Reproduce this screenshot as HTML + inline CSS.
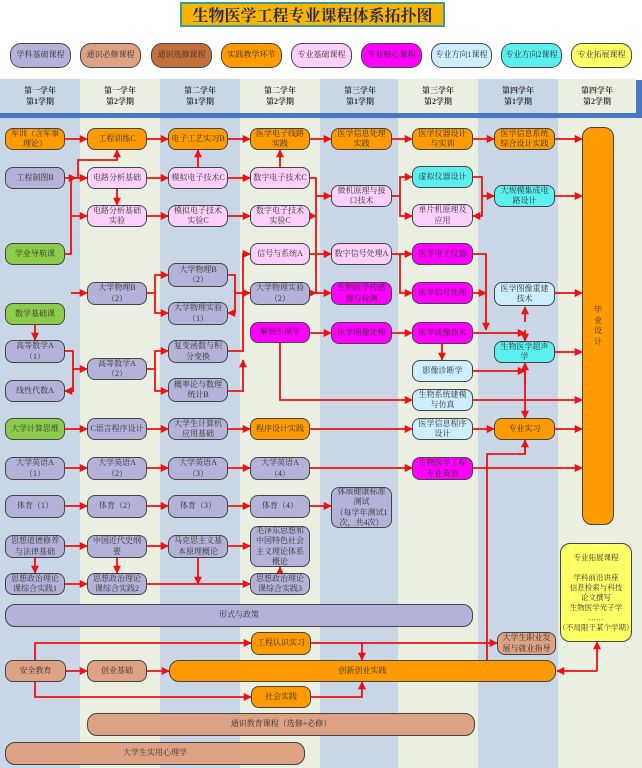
<!DOCTYPE html>
<html><head><meta charset="utf-8">
<style>
body{margin:0;width:642px;height:768px;position:relative;overflow:hidden;background:#fff;font-family:"Liberation Serif","Noto Serif CJK SC",serif;}
.col{position:absolute;top:118px;height:650px;width:80px;}
.hc{position:absolute;top:79px;height:34px;width:80px;font-size:8px;font-weight:bold;color:#333;text-align:center;line-height:11px;padding-top:6px;box-sizing:border-box;}
.b{position:absolute;box-sizing:border-box;border:1.5px solid #444;border-radius:8px;display:flex;align-items:center;justify-content:center;text-align:center;font-size:8px;line-height:10.5px;color:#333;white-space:nowrap;overflow:hidden;}
.P{background:#b3b3d9}.T{background:#dda184}.E{background:#c4703d}.O{background:#ff9a00}.K{background:#fdd0fb}.M{background:#ff00ff}.L{background:#cdeefe}.C{background:#5bf0f0}.Y{background:#ffff66}.G{background:#8dcc4a}
.lg{position:absolute;top:43px;height:25px;width:61px;border-radius:11px;border:1.5px solid #444;font-size:8px;}
</style></head><body>
<div class="col" style="left:0;background:#c8d6e6"></div>
<div class="col" style="left:80px;background:#ebefe1"></div>
<div class="col" style="left:160px;background:#c8d6e6"></div>
<div class="col" style="left:240px;background:#ebefe1"></div>
<div class="col" style="left:320px;background:#c8d6e6"></div>
<div class="col" style="left:398px;background:#ebefe1"></div>
<div class="col" style="left:478px;background:#c8d6e6"></div>
<div class="col" style="left:558px;background:#ebefe1;width:84px"></div>

<div style="position:absolute;left:180px;top:2px;width:265px;height:25px;background:#f7b400;border:2px solid #3a9a9a;box-sizing:border-box;font-size:16px;line-height:21px;text-align:center;color:#2a2a55;font-weight:bold;white-space:nowrap;font-family:'Noto Serif CJK SC',serif">生物医学工程专业课程体系拓扑图</div>

<div class="b P lg" style="left:10px">学科基础课程</div>
<div class="b T lg" style="left:80px">通识必修课程</div>
<div class="b E lg" style="left:151px">通识选修课程</div>
<div class="b O lg" style="left:221px">实践教学环节</div>
<div class="b K lg" style="left:291px">专业基础课程</div>
<div class="b M lg" style="left:361px">专业核心课程</div>
<div class="b L lg" style="left:431px">专业方向1课程</div>
<div class="b C lg" style="left:501px">专业方向2课程</div>
<div class="b Y lg" style="left:571px">专业拓展课程</div>

<div class="hc" style="left:0;background:#c8d6e6">第一学年<br>第1学期</div>
<div class="hc" style="left:80px;background:#ebefe1">第一学年<br>第2学期</div>
<div class="hc" style="left:160px;background:#c8d6e6">第二学年<br>第1学期</div>
<div class="hc" style="left:240px;background:#ebefe1">第二学年<br>第2学期</div>
<div class="hc" style="left:320px;background:#c8d6e6">第三学年<br>第1学期</div>
<div class="hc" style="left:398px;background:#ebefe1">第三学年<br>第2学期</div>
<div class="hc" style="left:478px;background:#c8d6e6">第四学年<br>第1学期</div>
<div class="hc" style="left:558px;background:#ebefe1;width:78px">第四学年<br>第2学期</div>
<div style="position:absolute;left:0;top:113px;width:642px;height:5px;background:#4a78c0"></div>
<div style="position:absolute;left:636px;top:80px;width:6px;height:38px;background:#4a78c0"></div>

<svg width="642" height="768" style="position:absolute;left:0;top:0" fill="none" stroke="#ee1111" stroke-width="1.8">
<defs><marker id="a" viewBox="0 0 10 10" refX="9" refY="5" markerWidth="4.5" markerHeight="4.5" orient="auto"><path d="M0,0L10,5L0,10z" fill="#ee1111" stroke="none"/></marker></defs>
<g marker-end="url(#a)">
<path d="M65 139H87"/><path d="M146 139H168"/><path d="M228 139H250"/><path d="M310 139H331"/><path d="M392 139H412"/><path d="M473 139H494"/><path d="M555 139H582"/>
<path d="M65 178H78V160H117V150"/><path d="M78 178H87"/>
<path d="M65 254H71V178H76"/><path d="M71 216H87"/><path d="M71 293H87"/>
<path d="M117 189V205"/><path d="M147 178H168"/><path d="M228 178H250"/><path d="M198 167V150"/><path d="M280 167V150"/>
<path d="M147 216H168"/><path d="M228 216H250"/>
<path d="M310 178H316V293H331"/><path d="M310 216H316"/><path d="M316 196H331"/><path d="M310 254H331"/><path d="M310 293H316"/>
<path d="M310 333H331"/><path d="M280 343V400H412"/>
<path d="M147 293H155V275H168"/><path d="M155 293V313H168"/>
<path d="M228 275H235V313H228"/><path d="M235 293H250"/>
<path d="M228 351H243V254H250"/><path d="M228 391H243V360"/>
<path d="M35 325V340"/><path d="M65 351H73V391H65"/><path d="M73 369H87"/>
<path d="M147 369H155V351H168"/><path d="M155 369V391H168"/>
<path d="M392 196H400V177H412"/><path d="M400 196V216H412"/>
<path d="M473 177H482V216H473"/><path d="M482 196H494"/><path d="M555 196H582"/>
<path d="M392 254H400V293H412"/><path d="M400 254H412"/>
<path d="M473 254H486V330"/><path d="M473 293H486"/>
<path d="M392 333H412"/><path d="M473 333H525"/><path d="M525 322V307"/><path d="M525 330V341"/>
<path d="M442 344V360"/><path d="M473 371H525"/><path d="M525 363V418"/><path d="M525 385V363"/>
<path d="M555 293H582"/><path d="M555 352H582"/><path d="M473 400H582"/>
<path d="M65 429H87"/><path d="M147 429H168"/><path d="M228 429H250"/><path d="M310 429H412"/><path d="M473 429H494"/><path d="M555 429H582"/>
<path d="M65 468H87"/><path d="M147 468H168"/><path d="M228 468H250"/><path d="M310 468H412"/><path d="M473 468H582"/>
<path d="M65 506H87"/><path d="M147 506H168"/><path d="M228 506H250"/><path d="M310 506H331"/>
<path d="M65 546H87"/><path d="M147 546H168"/><path d="M228 546H250"/>
<path d="M35 558V573"/><path d="M117 558V573"/><path d="M198 558V584"/><path d="M280 573V567"/>
<path d="M65 584H87"/><path d="M147 584H250"/>
<path d="M487 660V454H525V440"/>
<path d="M35 660V643H251"/><path d="M35 682V697H251"/>
<path d="M311 643H497"/><path d="M362 643V660"/><path d="M311 697H362V682"/>
<path d="M66 671H87"/><path d="M147 671H169"/>
<path d="M597 671H557"/><path d="M597 671V642"/>
</g>
</svg>

<div class="b O" style="left:5px;top:128px;width:60px;height:22px">军训（含军事<br>理论）</div>
<div class="b O" style="left:87px;top:128px;width:60px;height:22px">工程训练C</div>
<div class="b O" style="left:168px;top:128px;width:60px;height:22px">电子工艺实习B</div>
<div class="b O" style="left:250px;top:128px;width:60px;height:22px">医学电子线路<br>实践</div>
<div class="b O" style="left:331px;top:128px;width:61px;height:22px">医学信息处理<br>实践</div>
<div class="b O" style="left:412px;top:128px;width:61px;height:22px">医学仪器设计<br>与实训</div>
<div class="b O" style="left:494px;top:128px;width:61px;height:22px">医学信息系统<br>综合设计实践</div>
<div class="b O" style="left:582px;top:127px;width:32px;height:398px;border-radius:10px">毕<br>业<br>设<br>计</div>

<div class="b P" style="left:5px;top:167px;width:60px;height:22px">工程制图B</div>
<div class="b K" style="left:87px;top:167px;width:60px;height:22px">电路分析基础</div>
<div class="b K" style="left:168px;top:167px;width:60px;height:22px">模拟电子技术C</div>
<div class="b K" style="left:250px;top:167px;width:60px;height:22px">数字电子技术C</div>
<div class="b C" style="left:412px;top:166px;width:61px;height:22px">虚拟仪器设计</div>
<div class="b K" style="left:331px;top:185px;width:61px;height:22px">微机原理与接<br>口技术</div>
<div class="b C" style="left:494px;top:185px;width:61px;height:22px">大规模集成电<br>路设计</div>
<div class="b K" style="left:87px;top:205px;width:60px;height:22px">电路分析基础<br>实验</div>
<div class="b K" style="left:168px;top:205px;width:60px;height:22px">模拟电子技术<br>实验C</div>
<div class="b K" style="left:250px;top:205px;width:60px;height:22px">数字电子技术<br>实验C</div>
<div class="b K" style="left:412px;top:204px;width:61px;height:23px">单片机原理及<br>应用</div>

<div class="b G" style="left:5px;top:243px;width:60px;height:22px">学业导航课</div>
<div class="b K" style="left:250px;top:243px;width:60px;height:22px">信号与系统A</div>
<div class="b K" style="left:331px;top:243px;width:61px;height:22px">数字信号处理A</div>
<div class="b M" style="left:412px;top:243px;width:61px;height:22px">医学电子仪器</div>
<div class="b P" style="left:168px;top:263px;width:60px;height:24px">大学物理B<br>（2）</div>
<div class="b P" style="left:87px;top:282px;width:60px;height:23px">大学物理B<br>（2）</div>
<div class="b P" style="left:250px;top:282px;width:60px;height:23px">大学物理实验<br>（2）</div>
<div class="b M" style="left:331px;top:282px;width:61px;height:23px">生物医学传感<br>器与检测</div>
<div class="b M" style="left:412px;top:282px;width:61px;height:22px">医学信号处理</div>
<div class="b L" style="left:494px;top:282px;width:61px;height:24px">医学图像重建<br>技术</div>
<div class="b G" style="left:5px;top:303px;width:60px;height:22px">数学基础课</div>
<div class="b P" style="left:168px;top:302px;width:60px;height:23px">大学物理实验<br>（1）</div>
<div class="b M" style="left:250px;top:322px;width:60px;height:21px">解剖生理学</div>
<div class="b M" style="left:331px;top:322px;width:61px;height:22px">医学图像处理</div>
<div class="b M" style="left:412px;top:322px;width:61px;height:22px">医学成像技术</div>
<div class="b P" style="left:5px;top:340px;width:60px;height:23px">高等数学A<br>（1）</div>
<div class="b P" style="left:168px;top:340px;width:60px;height:23px">复变函数与积<br>分变换</div>
<div class="b C" style="left:494px;top:341px;width:61px;height:22px">生物医学超声<br>学</div>
<div class="b P" style="left:87px;top:358px;width:60px;height:22px">高等数学A<br>（2）</div>
<div class="b L" style="left:412px;top:360px;width:61px;height:22px">影像诊断学</div>
<div class="b P" style="left:5px;top:380px;width:60px;height:22px">线性代数A</div>
<div class="b P" style="left:168px;top:378px;width:60px;height:24px">概率论与数理<br>统计B</div>
<div class="b L" style="left:412px;top:389px;width:61px;height:22px">生物系统建模<br>与仿真</div>

<div class="b G" style="left:5px;top:418px;width:60px;height:22px">大学计算思维</div>
<div class="b P" style="left:87px;top:418px;width:60px;height:22px">C语言程序设计</div>
<div class="b P" style="left:168px;top:418px;width:60px;height:22px">大学生计算机<br>应用基础</div>
<div class="b O" style="left:250px;top:418px;width:60px;height:22px">程序设计实践</div>
<div class="b L" style="left:412px;top:418px;width:61px;height:22px">医学信息程序<br>设计</div>
<div class="b O" style="left:494px;top:418px;width:61px;height:22px">专业实习</div>

<div class="b P" style="left:5px;top:457px;width:60px;height:23px">大学英语A<br>（1）</div>
<div class="b P" style="left:87px;top:457px;width:60px;height:23px">大学英语A<br>（2）</div>
<div class="b P" style="left:168px;top:457px;width:60px;height:23px">大学英语A<br>（3）</div>
<div class="b P" style="left:250px;top:457px;width:60px;height:23px">大学英语A<br>（4）</div>
<div class="b M" style="left:412px;top:457px;width:61px;height:23px">生物医学工程<br>专业英语</div>

<div class="b P" style="left:5px;top:495px;width:60px;height:23px">体育（1）</div>
<div class="b P" style="left:87px;top:495px;width:60px;height:23px">体育（2）</div>
<div class="b P" style="left:168px;top:495px;width:60px;height:23px">体育（3）</div>
<div class="b P" style="left:250px;top:495px;width:60px;height:23px">体育（4）</div>
<div class="b P" style="left:331px;top:487px;width:61px;height:41px">体质健康标准<br>测试<br>（每学年测试1<br>次，共4次）</div>

<div class="b P" style="left:5px;top:535px;width:60px;height:23px">思想道德修养<br>与法律基础</div>
<div class="b P" style="left:87px;top:535px;width:60px;height:23px">中国近代史纲<br>要</div>
<div class="b P" style="left:168px;top:535px;width:60px;height:23px">马克思主义基<br>本原理概论</div>
<div class="b P" style="left:250px;top:526px;width:60px;height:41px">毛泽东思想和<br>中国特色社会<br>主义理论体系<br>概论</div>
<div class="b P" style="left:5px;top:573px;width:60px;height:22px">思想政治理论<br>课综合实践1</div>
<div class="b P" style="left:87px;top:573px;width:60px;height:22px">思想政治理论<br>课综合实践2</div>
<div class="b P" style="left:250px;top:573px;width:60px;height:22px">思想政治理论<br>课综合实践3</div>
<div class="b Y" style="left:560px;top:543px;width:72px;height:99px;font-size:7.5px;line-height:10px;border-radius:10px">专业拓展课程<br><br>学科前沿讲座<br>信息检索与科技<br>论文撰写<br>生物医学光子学<br>……<br>（不局限于某个学期）</div>
<div class="b P" style="left:5px;top:604px;width:468px;height:23px;border-radius:10px">形式与政策</div>

<div class="b O" style="left:251px;top:632px;width:60px;height:23px">工程认识实习</div>
<div class="b T" style="left:497px;top:632px;width:59px;height:23px">大学生职业发<br>展与就业指导</div>
<div class="b T" style="left:5px;top:660px;width:61px;height:22px">安全教育</div>
<div class="b T" style="left:87px;top:660px;width:60px;height:22px">创业基础</div>
<div class="b O" style="left:169px;top:660px;width:387px;height:22px;border-radius:10px">创新创业实践</div>
<div class="b O" style="left:251px;top:686px;width:60px;height:22px">社会实践</div>
<div class="b T" style="left:87px;top:713px;width:388px;height:23px;border-radius:10px">通识教育课程（选修+必修）</div>
<div class="b T" style="left:5px;top:742px;width:300px;height:23px;border-radius:10px">大学生实用心理学</div>
</body></html>
